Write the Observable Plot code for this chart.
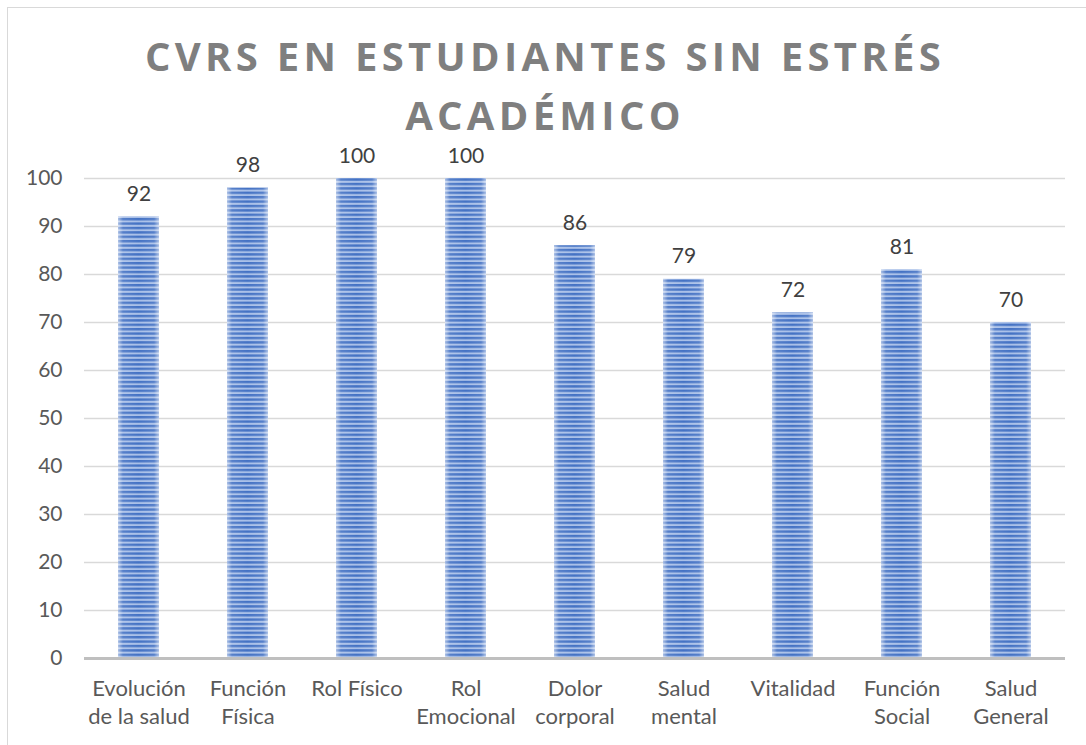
<!DOCTYPE html>
<html>
<head>
<meta charset="utf-8">
<script src="https://cdn.jsdelivr.net/npm/d3@7"></script>
<script src="https://cdn.jsdelivr.net/npm/@observablehq/plot@0.6"></script>
<style>
  html, body { margin: 0; padding: 0; background: #fff; }
  #wrap { position: relative; width: 1086px; height: 745px; overflow: hidden; background: #fff; }
  #frame { position: absolute; left: 7px; top: 7px; width: 1100px; height: 800px; border: 1.5px solid #d9d9d9; box-sizing: border-box; }
  .tline { position: absolute; left: 0; width: 1090px; text-align: center; white-space: nowrap;
    font-family: "Open Sans", sans-serif; font-weight: 700; font-size: 40px; line-height: 40px;
    letter-spacing: 4.3px; color: #7f7f7f; }
  #chart { position: absolute; left: 0; top: 0; }
</style>
</head>
<body>
<div id="wrap">
  <div id="frame"></div>
  <div id="chart"></div>
  <div class="tline" style="top:36px">CVRS EN ESTUDIANTES SIN ESTRÉS</div>
  <div class="tline" style="top:95px">ACADÉMICO</div>
</div>
<script>
const categories = ["Evolución\nde la salud", "Función\nFísica", "Rol Físico", "Rol\nEmocional", "Dolor\ncorporal", "Salud\nmental", "Vitalidad", "Función\nSocial", "Salud\nGeneral"];
const values = [92, 98, 100, 100, 86, 79, 72, 81, 70];
const yTicks = [0, 10, 20, 30, 40, 50, 60, 70, 80, 90, 100];

const data = categories.map((c, i) => ({cat: c, val: values[i]}));

const chart = Plot.plot({
  width: 1086,
  height: 745,
  marginTop: 178,
  marginBottom: 87,
  marginLeft: 84,
  marginRight: 21,
  style: {fontFamily: "Lato, sans-serif", background: "transparent"},
  x: {domain: categories, paddingInner: 0.62, paddingOuter: 0.31, label: null},
  y: {domain: [0, 100], label: null},
  marks: [
    Plot.gridY(yTicks, {stroke: "#d9d9d9", strokeOpacity: 1, strokeWidth: 1.3}),
    Plot.barY(data, {x: "cat", y: "val", fill: "url(#stripes)"}),
    Plot.barY(data, {x: "cat", y: "val", fill: "url(#edgeglow)"}),
    Plot.ruleY([0], {stroke: "#bfbfbf", strokeWidth: 3}),
    Plot.text(data, {x: "cat", y: "val", text: d => String(d.val), lineAnchor: "bottom", dy: -16, fontSize: 21, fill: "#404040"}),
    Plot.axisY(yTicks, {tickSize: 0, tickPadding: 22, fontSize: 21, fill: "#595959", label: null}),
    Plot.axisX({tickSize: 0, tickPadding: 18, fontSize: 22, fill: "#595959", lineHeight: 1.27, label: null})
  ]
});

const svg = d3.select(chart);
const defs = svg.insert("defs", ":first-child");
const pat = defs.append("pattern")
  .attr("id", "stripes")
  .attr("patternUnits", "userSpaceOnUse")
  .attr("width", 20).attr("height", 4.4)
  .attr("y", 658);
pat.append("rect").attr("width", 20).attr("height", 4.4).attr("fill", "#a8bfe8");
pat.append("rect").attr("width", 20).attr("height", 2.4).attr("fill", "#4472c4");
const grad = defs.append("linearGradient").attr("id", "edgeglow").attr("x1", 0).attr("x2", 1).attr("y1", 0).attr("y2", 0);
[[0, 0.55], [0.12, 0.1], [0.5, 0], [0.88, 0.1], [1, 0.55]].forEach(([o, a]) => {
  grad.append("stop").attr("offset", o).attr("stop-color", "#ffffff").attr("stop-opacity", a);
});

document.getElementById("chart").appendChild(chart);
</script>
</body>
</html>
